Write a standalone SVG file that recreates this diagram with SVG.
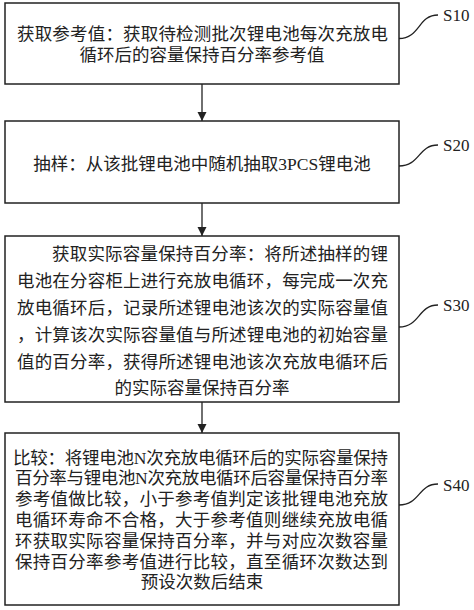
<svg xmlns="http://www.w3.org/2000/svg" width="474" height="610" viewBox="0 0 474 610">
<style>
.box{fill:#fff;stroke:#222;stroke-width:1.5}
.t{font-family:"Liberation Serif","Noto Sans CJK SC",serif;font-size:17.5px;fill:#222}
.lbl{font-family:"Liberation Serif",serif;font-size:17px;fill:#222}
.ln{fill:none;stroke:#222;stroke-width:1.3}
</style>
<defs>
<marker id="ah" markerWidth="10" markerHeight="10" refX="9" refY="4.5" orient="auto" markerUnits="userSpaceOnUse">
<path d="M0,0 L9,4.5 L0,9 Z" fill="#222"/>
</marker>
</defs>
<rect width="474" height="610" fill="#fff"/>
<g id="connectors">
<line class="ln" x1="202" y1="84" x2="202" y2="121" marker-end="url(#ah)"/>
<line class="ln" x1="202" y1="203" x2="202" y2="236" marker-end="url(#ah)"/>
<line class="ln" x1="202" y1="402" x2="202" y2="433" marker-end="url(#ah)"/>
<path class="ln" d="M399,38.5 C420,38.5 418,15 438,15"/>
<path class="ln" d="M399,166 C420,166 418,145 438,145"/>
<path class="ln" d="M399,327 C420,327 418,305 438,305"/>
<path class="ln" d="M399,505 C420,505 418,484 438,484"/>
</g>
<g id="S10">
<rect class="box" x="5" y="3" width="394" height="81"/>
<text class="t" x="17" y="40" textLength="371" lengthAdjust="spacing">获取参考值：获取待检测批次锂电池每次充放电</text>
<text class="t" x="202" y="60.5" text-anchor="middle">循环后的容量保持百分率参考值</text>
<text class="lbl" x="443" y="20.5">S10</text>
</g>
<g id="S20">
<rect class="box" x="5" y="121" width="394" height="82"/>
<text class="t" x="202" y="169.5" text-anchor="middle">抽样：从该批锂电池中随机抽取3PCS锂电池</text>
<text class="lbl" x="443" y="150.5">S20</text>
</g>
<g id="S30">
<rect class="box" x="5" y="236" width="394" height="166"/>
<text class="t" x="52" y="259.6" textLength="336" lengthAdjust="spacing">获取实际容量保持百分率：将所述抽样的锂</text>
<text class="t" x="17" y="286.6" textLength="371" lengthAdjust="spacing">电池在分容柜上进行充放电循环，每完成一次充</text>
<text class="t" x="17" y="313.6" textLength="371" lengthAdjust="spacing">放电循环后，记录所述锂电池该次的实际容量值</text>
<text class="t" x="17" y="340.6" textLength="371" lengthAdjust="spacing">，计算该次实际容量值与所述锂电池的初始容量</text>
<text class="t" x="17" y="367.6" textLength="371" lengthAdjust="spacing">值的百分率，获得所述锂电池该次充放电循环后</text>
<text class="t" x="202" y="393.6" text-anchor="middle">的实际容量保持百分率</text>
<text class="lbl" x="443" y="310.5">S30</text>
</g>
<g id="S40">
<rect class="box" x="5" y="433" width="394" height="172"/>
<text class="t" x="13" y="463.6" textLength="375" lengthAdjust="spacing">比较：将锂电池N次充放电循环后的实际容量保持</text>
<text class="t" x="15" y="484.4" textLength="373" lengthAdjust="spacing">百分率与锂电池N次充放电循环后容量保持百分率</text>
<text class="t" x="15" y="505.2" textLength="373" lengthAdjust="spacing">参考值做比较，小于参考值判定该批锂电池充放</text>
<text class="t" x="15" y="526" textLength="373" lengthAdjust="spacing">电循环寿命不合格，大于参考值则继续充放电循</text>
<text class="t" x="15" y="546.8" textLength="373" lengthAdjust="spacing">环获取实际容量保持百分率，并与对应次数容量</text>
<text class="t" x="15" y="567.6" textLength="373" lengthAdjust="spacing">保持百分率参考值进行比较，直至循环次数达到</text>
<text class="t" x="202" y="588.4" text-anchor="middle">预设次数后结束</text>
<text class="lbl" x="443" y="490.5">S40</text>
</g>
</svg>
